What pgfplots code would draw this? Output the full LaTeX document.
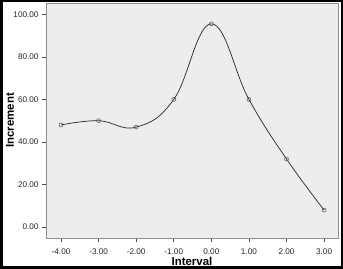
\documentclass[border=0pt]{standalone}
\usepackage{pgfplots}
\pgfplotsset{compat=1.18}
\usepackage{fontspec}
\setmainfont{Liberation Sans}
\begin{document}
\begin{tikzpicture}
\path[use as bounding box] (0,0) rectangle (343bp,269bp);
\fill[white] (0,0) rectangle (343bp,269bp);
\begin{axis}[
  at={(46bp,31bp)}, anchor=south west,
  scale only axis, width=292bp, height=235bp,
  xmin=-4.4, xmax=3.37, ymin=-5.1, ymax=105.3,
  axis background/.style={fill=black!7},
  axis line style={black!45, line width=0.8bp},
  xtick={-4,-3,-2,-1,0,1,2,3},
  ytick={0,20,40,60,80,100},
  tick pos=left, tick align=outside,
  major tick length=4bp,
  tick style={black!70, line width=0.6bp},
  /pgf/number format/assume math mode=true,
  /pgf/number format/.cd, fixed, zerofill, precision=2, /pgfplots/.cd,
  ticklabel style={font=\fontsize{8.2}{9}\selectfont, text=black!85},
  xticklabel style={yshift=-3bp},
  xlabel={Interval}, ylabel={Increment},
  label style={font=\fontsize{11.5}{13}\selectfont\bfseries},
  xlabel style={at={(axis description cs:0.5,-0.098)}, anchor=center},
  ylabel style={at={(axis description cs:-0.123,0.5)}, anchor=center},
]
\addplot[black!85, line width=0.7bp, smooth, tension=0.7, mark=o, mark size=2bp,
  mark options={black!70, line width=0.5bp}]
  coordinates {(-4,48) (-3,50) (-2,47) (-1,60) (0,95.5) (1,60) (2,32) (3,8)};
\end{axis}
\draw[black, line width=2.5bp] (1.25bp,1.25bp) rectangle (341.75bp,267.75bp);
\end{tikzpicture}
\end{document}
